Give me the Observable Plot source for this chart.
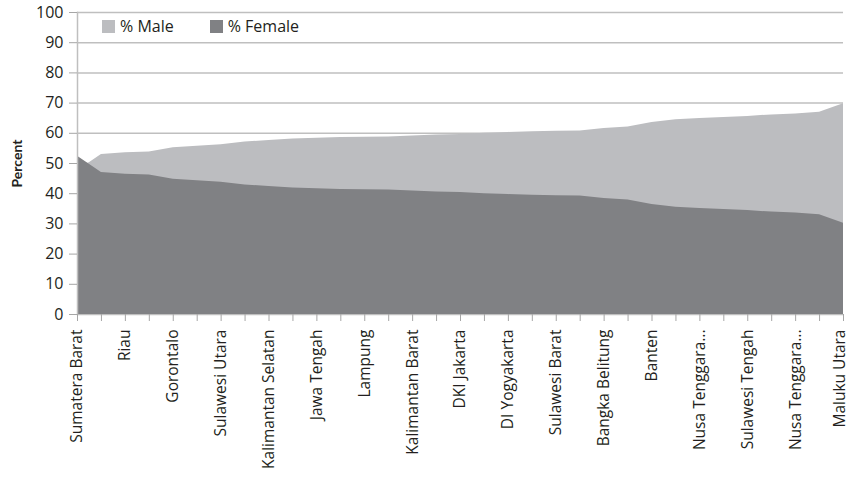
<!DOCTYPE html>
<html>
<head>
<meta charset="utf-8">
<script src="https://cdn.jsdelivr.net/npm/d3@7"></script>
<script src="https://cdn.jsdelivr.net/npm/@observablehq/plot@0.6"></script>
<style>
  html, body { margin: 0; padding: 0; background: #fff; overflow: hidden; }
  #wrap { position: relative; width: 850px; height: 484px; font-family: "Open Sans", sans-serif; color: #231f20; }
  #wrap svg { display: block; }
  #legend { position: absolute; left: 102px; top: 15px; display: flex; align-items: center; font-size: 16px; }
  .item { display: flex; align-items: center; margin-right: 36px; }
  .sw { width: 13px; height: 13px; margin-right: 5px; display: inline-block; }
</style>
</head>
<body>
<div id="wrap"><div id="legend"></div></div>
<script>
const provinces = [
  "Sumatera Barat", "Aceh", "Riau", "Sumatera Utara", "Gorontalo", "Jambi",
  "Sulawesi Utara", "Sumatera Selatan", "Kalimantan Selatan", "Bengkulu",
  "Jawa Tengah", "Kepulauan Riau", "Lampung", "Jawa Barat", "Kalimantan Barat",
  "Jawa Timur", "DKI Jakarta", "Bali", "DI Yogyakarta", "Kalimantan Tengah",
  "Sulawesi Barat", "Kalimantan Timur", "Bangka Belitung", "Sulawesi Selatan",
  "Banten", "Sulawesi Tenggara", "Nusa Tenggara Barat", "Maluku",
  "Sulawesi Tengah", "Papua Barat", "Nusa Tenggara Timur", "Papua", "Maluku Utara"
];
const male = [
  47.6, 53.0, 53.6, 53.8, 55.2, 55.7, 56.2, 57.1, 57.6, 58.1, 58.4,
  58.6, 58.7, 58.8, 59.1, 59.4, 59.6, 60.0, 60.3, 60.5, 60.7, 60.8,
  61.6, 62.1, 63.6, 64.5, 64.9, 65.2, 65.6, 66.1, 66.4, 67.0, 69.8
];
const female = [
  52.4, 47.0, 46.4, 46.2, 44.8, 44.3, 43.8, 42.9, 42.4, 41.9, 41.6,
  41.4, 41.3, 41.2, 40.9, 40.6, 40.4, 40.0, 39.7, 39.5, 39.3, 39.2,
  38.4, 37.9, 36.4, 35.5, 35.1, 34.8, 34.4, 33.9, 33.6, 33.0, 30.2
];
const yTicks = [0, 10, 20, 30, 40, 50, 60, 70, 80, 90, 100];
const seriesNames = ["% Male", "% Female"];
const seriesColors = ["#bcbdc0", "#808184"];

const maleData = provinces.map((p, i) => ({province: p, value: male[i]}));
const femaleData = provinces.map((p, i) => ({province: p, value: female[i]}));

const lastProvince = provinces[provinces.length - 1];
const shortLabel = d => d.startsWith("Nusa Tenggara") ? "Nusa Tenggara..." : d;
const xAxisText = {
  tickSize: 7, tickPadding: 8, tickRotate: -90, stroke: "#a6a6a6", fill: "#231f20",
  fontSize: 15.5, letterSpacing: "1px", label: null
};

const chart = Plot.plot({
  width: 850,
  height: 484,
  marginLeft: 77,
  marginRight: 7,
  marginTop: 12,
  marginBottom: 170,
  style: {fontFamily: "Open Sans, sans-serif", fontSize: "16px", color: "#231f20", background: "#fff"},
  x: {type: "point", domain: provinces, padding: 0, round: false},
  y: {domain: [0, 100]},
  marks: [
    Plot.gridY(yTicks, {stroke: "#bfbfbf", strokeOpacity: 1, strokeWidth: 1.5}),
    Plot.areaY(maleData, {x: "province", y: "value", fill: seriesColors[0], curve: "linear"}),
    Plot.areaY(femaleData, {x: "province", y: "value", fill: seriesColors[1], curve: "linear"}),
    Plot.frame({anchor: "left", stroke: "#bfbfbf", strokeWidth: 1.5}),
    Plot.axisY(yTicks, {
      tickSize: 8, tickPadding: 6, stroke: "#a6a6a6", fill: "#231f20",
      fontSize: 16, label: null
    }),
    Plot.axisX(provinces, {
      ...xAxisText,
      tickFormat: d => (provinces.indexOf(d) % 2 === 0 && d !== lastProvince) ? shortLabel(d) : ""
    }),
    Plot.axisX([lastProvince], {
      ...xAxisText, tickSize: 0, tickPadding: 15, dx: -3,
      tickFormat: d => shortLabel(d)
    }),
    Plot.text(["Percent"], {
      frameAnchor: "left", dx: -60, rotate: -90, textAnchor: "middle", fontWeight: "bold",
      fontSize: 14, fontFamily: "Lato, sans-serif", fill: "#231f20"
    })
  ]
});
document.getElementById("wrap").prepend(chart);

const legend = document.getElementById("legend");
seriesNames.forEach((name, i) => {
  const item = document.createElement("div");
  item.className = "item";
  const sw = document.createElement("span");
  sw.className = "sw";
  sw.style.background = seriesColors[i];
  item.appendChild(sw);
  item.appendChild(document.createTextNode(name));
  legend.appendChild(item);
});
</script>
</body>
</html>
